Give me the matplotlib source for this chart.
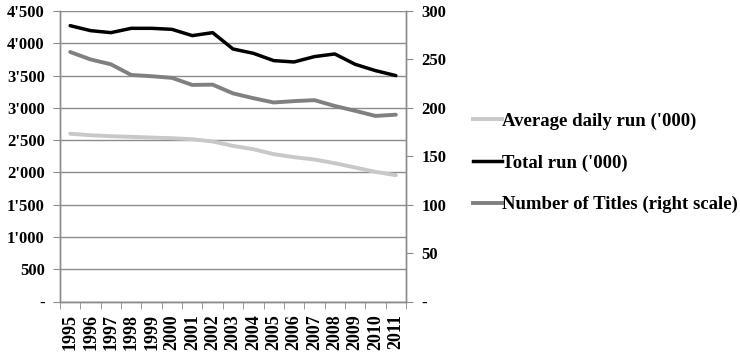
import matplotlib
matplotlib.use("Agg")
import matplotlib.pyplot as plt
import matplotlib.ticker as mticker
from matplotlib.lines import Line2D
import numpy as np

years = [str(y) for y in range(1995, 2012)]

# circulation figures in thousands (left scale)
avg_daily_run = [2600, 2577, 2562, 2552, 2541, 2531, 2515, 2480, 2412, 2361,
                 2284, 2237, 2201, 2144, 2077, 2010, 1959]
total_run = [4273, 4196, 4165, 4232, 4232, 4216, 4119, 4165, 3912, 3845,
             3732, 3711, 3794, 3835, 3675, 3577, 3500]

# number of titles (right scale)
num_titles = [257.7, 250, 245, 234, 232.7, 231, 223.7, 224, 215, 210,
              205.6, 207, 208, 202, 197, 191.7, 193]

left_ticks = [0, 500, 1000, 1500, 2000, 2500, 3000, 3500, 4000, 4500]
right_ticks = [0, 50, 100, 150, 200, 250, 300]

FONT = "Liberation Serif"
GRID = "#8c8c8c"

plt.rcParams["font.family"] = FONT
plt.rcParams["font.weight"] = "bold"
plt.rcParams["font.size"] = 12

W, H = 740, 355
fig = plt.figure(figsize=(W / 100, H / 100), dpi=100)
ax = fig.add_axes([60 / W, (H - 301.7) / H, 346 / W, (301.7 - 11) / H])
ax2 = ax.twinx()

x = np.arange(len(years))
ax.plot(x, avg_daily_run, color="#c8c8c8", lw=2.8, solid_capstyle="round", zorder=3)
ax.plot(x, total_run, color="#000000", lw=2.5, solid_capstyle="round", zorder=3)
ax2.plot(x, num_titles, color="#808080", lw=2.8, solid_capstyle="round", zorder=3)


def apostrophe_fmt(v, pos):
    if v == 0:
        return "-"
    return f"{int(v):,}".replace(",", "'")


ax.set_xlim(-0.5, len(years) - 0.5)
ax.set_ylim(0, 4500)
ax.set_yticks(left_ticks)
ax.yaxis.set_major_formatter(mticker.FuncFormatter(apostrophe_fmt))
ax.grid(axis="y", color=GRID, lw=1.0, zorder=0)
ax.set_axisbelow(True)

ax2.set_ylim(0, 300)
ax2.set_yticks(right_ticks)
ax2.yaxis.set_major_formatter(mticker.FuncFormatter(lambda v, p: "-" if v == 0 else f"{int(v)}"))

# category labels centred, ticks on the boundaries
ax.set_xticks(x)
ax.set_xticklabels(years, rotation=90, fontweight="bold", fontsize=13)
ax.set_xticks(np.arange(-0.5, len(years)), minor=True)
ax.tick_params(axis="x", which="major", length=0, pad=9)
ax.tick_params(axis="x", which="minor", length=5, color=GRID, direction="out")
ax.tick_params(axis="y", length=5, color=GRID, pad=6)
ax2.tick_params(axis="y", length=5, color=GRID, pad=6)

for a in (ax, ax2):
    for side in ("left", "right", "bottom"):
        a.spines[side].set_color(GRID)
        a.spines[side].set_linewidth(1.0)
    a.spines["top"].set_visible(False)
    for lbl in a.get_yticklabels():
        lbl.set_fontweight("bold")

handles = [
    Line2D([], [], color="#c8c8c8", lw=2.8),
    Line2D([], [], color="#000000", lw=2.5),
    Line2D([], [], color="#808080", lw=2.8),
]
labels = ["Average daily run ('000)", "Total run ('000)", "Number of Titles (right scale)"]
fig.legend(handles, labels, loc="center left", bbox_to_anchor=(473 / W, 1 - 163 / H),
           frameon=False, handlelength=1.55, handletextpad=0.0, labelspacing=1.3,
           borderaxespad=0, borderpad=0,
           prop={"family": FONT, "weight": "bold", "size": 13.5})

fig.savefig("out.png", dpi=100)
